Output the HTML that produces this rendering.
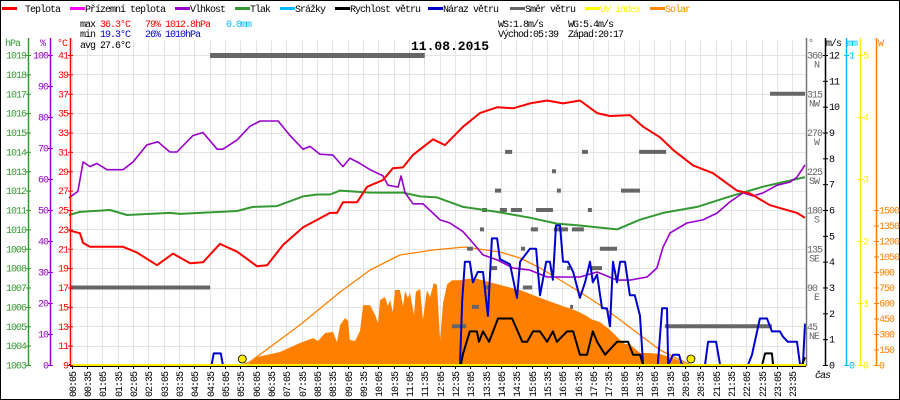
<!DOCTYPE html>
<html><head><meta charset="utf-8"><style>
html,body{margin:0;padding:0;background:#fff}
svg{display:block}
text{font-family:"Liberation Mono",monospace;font-size:10px;letter-spacing:-1px}
</style></head><body>
<svg id="chart" width="900" height="400" viewBox="0 0 900 400" xmlns="http://www.w3.org/2000/svg">
<rect x="0.5" y="0.5" width="899" height="399" fill="#fff" stroke="#000"/>
<g id="grid"></g>
<g id="series"></g>
<g id="axes"></g>
<g>
 <g><rect x="2" y="7" width="15" height="3" fill="#f00"/><text x="25" y="12">Teplota</text></g>
 <g><rect x="70" y="7" width="15" height="3" fill="#f0f"/><text x="85" y="12">Přízemní teplota</text></g>
 <g><rect x="175" y="7" width="15" height="3" fill="#90c"/><text x="190" y="12">Vlhkost</text></g>
 <g><rect x="235" y="7" width="15" height="3" fill="#393"/><text x="250" y="12">Tlak</text></g>
 <g><rect x="280" y="7" width="15" height="3" fill="#0bf"/><text x="295" y="12">Srážky</text></g>
 <g><rect x="335" y="7" width="15" height="3" fill="#000"/><text x="350" y="12">Rychlost větru</text></g>
 <g><rect x="428" y="7" width="15" height="3" fill="#00c"/><text x="443" y="12">Náraz větru</text></g>
 <g><rect x="510" y="7" width="15" height="3" fill="#666"/><text x="525" y="12">Směr větru</text></g>
 <g><rect x="585" y="7" width="15" height="3" fill="#ff0"/><text x="600" y="12" fill="#ff0">UV index</text></g>
 <g><rect x="650" y="7" width="15" height="3" fill="#f80"/><text x="665" y="12" fill="#f80">Solar</text></g>
</g>
<g>
 <text x="80" y="27">max</text><text x="100" y="27" fill="#f00">36.3°C</text><text x="145" y="27" fill="#f00">79%</text><text x="165" y="27" fill="#f00">1012.8hPa</text><text x="226" y="27" fill="#0bf">0.0mm</text>
 <text x="80" y="37">min</text><text x="100" y="37" fill="#00c">19.3°C</text><text x="145" y="37" fill="#00c">26%</text><text x="165" y="37" fill="#00c">1010hPa</text>
 <text x="80" y="48">avg 27.6°C</text>
 <text x="498" y="27">WS:1.8m/s</text><text x="568" y="27">WG:5.4m/s</text>
 <text x="498" y="37">Východ:05:39</text><text x="568" y="37">Západ:20:17</text>
</g>
<text x="450" y="50" text-anchor="middle" style="font-size:13px;font-weight:bold;letter-spacing:0">11.08.2015</text>
</svg>
<script>
// ---- data ----
const tempT=[0,0.36,0.46,0.68,1.76,2.22,2.87,3.39,3.95,4.37,4.92,5.48,6.13,6.46,6.98,7.63,8.51,8.74,8.93,9.39,9.72,10.24,10.56,10.89,11.22,11.87,12.26,12.85,13.4,13.96,14.48,15.03,15.59,16.11,16.66,17.22,17.64,18.29,18.72,19.27,19.7,20.35,21,21.78,22.21,22.86,23.74,24];
const tempV=[22.9,22.6,21.6,21.2,21.2,20.6,19.3,20.5,19.5,19.6,21.5,20.7,19.2,19.3,21.4,23.2,24.7,24.7,25.8,25.8,27.4,28.1,29.3,29.4,30.7,32.3,31.7,33.6,35,35.6,35.5,36.0,36.3,36.0,36.3,35,34.7,34.8,33.6,32.5,31.2,29.6,28.8,27,26.7,25.5,24.7,24.2];
const humT=[0,0.29,0.46,0.68,0.91,1.24,1.76,2.09,2.54,2.9,3.29,3.52,4.04,4.37,4.83,5.02,5.48,5.9,6.23,6.82,7.21,7.63,7.86,8.18,8.61,8.93,9.16,9.49,9.82,10.24,10.4,10.73,10.83,10.96,11.22,11.54,11.87,12.1,12.42,12.85,13.17,13.5,13.96,14.48,15.03,15.59,16.11,16.66,17.22,17.87,18.29,18.85,19.17,19.37,19.6,20.15,20.67,21.13,21.55,21.98,22.3,22.63,23.09,23.51,23.74,24];
const humV=[53.9,56,65.5,64,65,63,63,65.5,71,72,68.7,68.7,74,75,69.6,69.6,72.6,77,78.7,78.7,74,69.6,70.5,68,67.7,64,66.7,65,63,61,58,57.4,61,55.5,52,52,49,46.8,45.8,43,39.4,35.5,33.9,31.3,30.6,28.4,28.4,28.4,30,27.4,27.4,28.4,31.3,38,42.6,45.8,46.8,49,52.6,55.5,54.5,55.5,58,59,60.6,64.5];
const presT=[0,0.36,1.34,1.89,3.29,3.62,5.48,6.0,6.78,7.63,8.09,8.51,8.84,9.82,10.89,11.45,12.0,12.85,13.96,15.03,15.91,16.66,17.87,18.62,19.37,20.48,21.55,22.63,23.18,24];
const presV=[1010.74,1010.9,1011.0,1010.74,1010.85,1010.8,1010.95,1011.16,1011.2,1011.7,1011.8,1011.8,1012.0,1011.9,1011.9,1011.7,1011.65,1011.16,1010.9,1010.6,1010.3,1010.2,1010.0,1010.5,1010.85,1011.16,1011.7,1012.2,1012.4,1012.7];
const solarT=[5.8,6.13,6.88,7.53,7.96,8.12,8.35,8.61,8.74,8.84,9.0,9.1,9.16,9.33,9.49,9.59,9.82,9.98,10.08,10.14,10.3,10.4,10.47,10.56,10.63,10.79,10.89,10.96,11.05,11.12,11.25,11.31,11.45,11.54,11.67,11.77,11.9,12.0,12.1,12.2,12.33,12.49,12.75,12.91,13.24,13.73,14.05,14.71,15.36,16.01,16.5,16.83,17.05,17.31,17.64,17.97,18.13,18.29,18.62,18.95,19.27,19.6,19.92,20.18];
const solarV=[0,77,126,213,260,232,310,320,222,387,455,426,242,232,330,580,580,484,406,629,658,571,629,513,726,726,571,716,649,697,484,707,736,436,726,658,794,774,242,600,780,820,820,830,840,800,775,726,650,580,530,484,440,416,340,242,203,200,116,116,106,77,39,0];
const solarMaxT=[5.64,5.9,7.53,8.84,9.82,10.79,11.87,12.91,14.05,14.71,15.36,16.01,16.66,17.31,17.97,18.62,19.27,19.92,20.28];
const solarMaxV=[0,29,387,706,919,1065,1113,1142,1094,1036,939,823,706,581,436,290,145,48,0];
const gustT=[0,4.65,4.72,4.95,5.02,12.75,12.82,12.91,13.07,13.17,13.33,13.5,13.66,13.79,13.96,14.05,14.38,14.61,14.71,15.03,15.23,15.36,15.56,15.68,15.78,15.88,16.01,16.11,16.27,16.44,16.66,16.83,16.99,17.08,17.22,17.38,17.54,17.64,17.74,17.87,17.97,18.13,18.29,18.45,18.62,18.72,19.2,19.34,19.5,19.54,19.7,19.89,19.99,20.74,20.84,21.1,21.23,22.14,22.27,22.53,22.76,22.92,23.18,23.28,23.44,23.74,23.84,23.93,24];
const gustV=[0,0,0.45,0.45,0,0,2.5,4,4,3.2,3.6,3.6,1.9,4.9,4.9,4.1,3.9,2.6,4.0,4.5,4.5,2.7,4.0,4.0,3.3,5.4,5.4,4.0,4.0,3.6,2.6,3.2,4.0,3.2,3.5,2.2,2.2,1.5,4.0,3.2,4.0,4.0,2.7,2.7,1.9,0,0,2.2,2.2,0,0.4,0.4,0,0,0.9,0.9,0,0,0.4,1.8,1.8,1.3,1.3,1.1,0.9,0.9,0,0,1.6];
const speedT=[0,12.78,12.85,13.07,13.3,13.37,13.5,13.7,13.83,13.99,14.45,14.78,14.94,15.13,15.36,15.59,15.78,15.91,16.24,16.44,16.66,16.89,17.08,17.22,17.48,17.87,18.23,18.39,18.62,18.72,22.6,22.7,22.92,22.96,23.9,24];
const speedV=[0,0,0.45,1.3,1.3,0.9,1.3,0.9,1.3,1.8,1.8,0.9,0.9,1.3,1.3,0.9,1.3,0.9,1.3,1.3,0.4,0.4,1.3,0.9,0.4,0.9,0.9,0.4,0.4,0,0,0.45,0.45,0,0,0.3];
const dirStart=[0.03,4.6,14.22,16.73,18.59,15.75,13.89,15.91,18.0,13.47,14.05,14.41,15.23,16.92,13.4,15.06,15.81,16.4,17.31,14.74,12.98,13.73,16.99,16.24,13.56,14.8,13.14,16.34,12.49,19.43,22.86];
const dirEnd=[4.6,11.6,14.45,16.92,19.47,15.88,14.09,16.04,18.62,13.63,14.28,14.77,15.78,17.05,13.53,15.29,16.27,16.79,17.87,14.87,13.17,13.96,17.38,16.34,13.73,15.1,13.37,16.4,12.95,22.92,24];
const dirDeg=[90,360,247.5,247.5,247.5,225,202.5,202.5,202.5,180,180,180,180,180,157.5,157.5,157.5,157.5,135,135,135,112.5,112.5,112.5,90,90,67.5,67.5,45,45,315];
const sunEvents=[5.65,20.28];
const hpaTicks=[1019,1018,1017,1016,1015,1014,1013,1012,1011,1010,1009,1008,1007,1006,1005,1004,1003];
const humTicks=[100,90,80,70,60,50,40,30,20,10,0];
const tempTicks=[41,39,37,35,33,31,29,27,25,23,21,19,17,15,13,11,9];
const dirTicks=[360,315,270,225,180,135,90,45];
const dirNames=["N","NW","W","SW","S","SE","E","NE"];
const windTicks=[12,11,10,9,8,7,6,5,4,3,2,1,0];
const uvTicks=[5,4,3,2,1,0];
const solarTicks=[1500,1350,1200,1050,900,750,600,450,300,150,0];

// ---- scales ----
const X=h=>69+h*30.667;
const YT=t=>365-(t-9)*310/32;
const YH=v=>365-v*3.1;
const YP=p=>365-(p-1003)*19.375;
const YW=v=>365-v*310/12;
const YD=d=>365-d*310/360;
const YS=w=>365-w*0.10333;
const YU=u=>365-u*62;
const NS="http://www.w3.org/2000/svg";
function mk(tag,attrs,parent){const e=document.createElementNS(NS,tag);for(const k in attrs)e.setAttribute(k,attrs[k]);parent.appendChild(e);return e;}
const grid=document.getElementById('grid'),ser=document.getElementById('series'),ax=document.getElementById('axes');

// grid
for(let k=0;k<48;k++){const x=Math.round(X(5/60+k*0.5))+0.5;
 const l=mk('line',{x1:x,x2:x,y1:40,y2:365,stroke:'#e4e4e4'},grid);
 
 
 const tk=mk('line',{x1:x,x2:x,y1:366,y2:369,stroke:'#000'},ax);
 
 
 const mins=5+k*30,hh=String(Math.floor(mins/60)).padStart(2,'0'),mm=String(mins%60).padStart(2,'0');
 const t=mk('text',{x:x+3.5,y:397,transform:`rotate(-90 ${x+3.5} 397)`},ax);t.textContent=hh+':'+mm;
 
 
}
tempTicks.forEach(v=>{const y=Math.round(YT(v))+0.5;
 const l=mk('line',{x1:70,x2:806,y1:y,y2:y,stroke:'#e4e4e4'},grid);
 
 });

// solar area
let d=`M${X(solarT[0])},365`;solarT.forEach((t,i)=>d+=`L${X(t).toFixed(1)},${YS(solarV[i]).toFixed(1)}`);d+=`L${X(solarT[solarT.length-1])},365Z`;
let p=mk('path',{d:d,fill:'#ff8000'},ser);


function line(ts,vs,sc,col,w,name){const pts=ts.map((t,i)=>X(t).toFixed(1)+','+sc(vs[i]).toFixed(1)).join(' ');
 const e=mk('polyline',{points:pts,fill:'none',stroke:col,'stroke-width':w,'stroke-linejoin':'round'},ser);return e;}
p=line(solarMaxT,solarMaxV,YS,'#ff8000',1.3);


// direction bars
dirDeg.forEach((g,i)=>{const y=YD(g);const r=mk('rect',{x:X(dirStart[i]),y:y-2,width:Math.max(3,X(dirEnd[i])-X(dirStart[i])),height:(g===360?5:4),fill:'#666'},ser);
 
 });
p=line(presT,presV,YP,'#339933',2);


p=line(humT,humV,YH,'#9900cc',1.6);


p=line(tempT,tempV,YT,'#ff0000',2);


p=line(gustT,gustV,YW,'#0000cc',2);


p=line(speedT,speedV,YW,'#000000',2);


// UV baseline
let b=mk('rect',{x:70,y:364,width:736,height:2,fill:'#ffee00'},ser);


b=mk('line',{x1:70,x2:806,y1:366.5,y2:366.5,stroke:'#000'},ax);


sunEvents.forEach(h=>{const c=mk('circle',{cx:X(h),cy:359,r:4,fill:'#ffee00',stroke:'#000','stroke-width':0.8},ser);
 
 });

// axes
function vaxis(x,col,name){const l=mk('line',{x1:x+0.5,x2:x+0.5,y1:38,y2:366,stroke:col,'stroke-width':1.5},ax);
 
 }
vaxis(28,'#339933','pressure-axis');vaxis(50,'#9900cc','humidity-axis');vaxis(70,'#ff0000','temperature-axis');
vaxis(806,'#777','direction-axis');vaxis(825,'#000','wind-axis');vaxis(846,'#00bbff','rain-axis');vaxis(860,'#ffee00','uv-axis');vaxis(876,'#ff8000','solar-axis');
function ticks(arr,sc,x,col,anchorX,anchor,name,labels){arr.forEach((v,i)=>{const y=sc(v);
 const t=mk('line',{x1:x-2,x2:x+3,y1:y+0.5,y2:y+0.5,stroke:col},ax);
 
 
 const tx=mk('text',{x:anchorX,y:y+3.5,fill:col,'text-anchor':anchor},ax);tx.textContent=labels?labels[i]:v;
 
 });}
ticks(hpaTicks,YP,28,'#339933',26,'end','pressure');
ticks(humTicks,YH,50,'#9900cc',48,'end','humidity');
ticks(tempTicks,YT,70,'#ff0000',68,'end','temperature');
ticks(windTicks,YW,825,'#000',829,'start','wind');
ticks(uvTicks,YU,860,'#ffee00',863,'start','uv');
ticks(solarTicks,YS,876,'#ff8000',879,'start','solar');
ticks([1,0],v=>365-v*310,846,'#00bbff',849,'start','rain');
dirTicks.forEach((v,i)=>{const y=YD(v);
 const t=mk('text',{x:807,y:y+3.5,fill:'#666'},ax);t.textContent=v;
 
 
 const n=mk('text',{x:819,y:y+12.5,fill:'#666','text-anchor':'end'},ax);n.textContent=dirNames[i];
 
 });
[['hPa',5,'#339933'],['%',40,'#9900cc'],['°C',57,'#ff0000'],['°',808,'#666'],['m/s',826,'#000'],['mm',847,'#00bbff'],['W',878,'#ff8000']].forEach(a=>{
 const t=mk('text',{x:a[1],y:46,fill:a[2]},ax);t.textContent=a[0];
 
 });
const ct=mk('text',{x:815,y:378,'font-style':'italic'},ax);ct.textContent='čas';


</script>
</body></html>
